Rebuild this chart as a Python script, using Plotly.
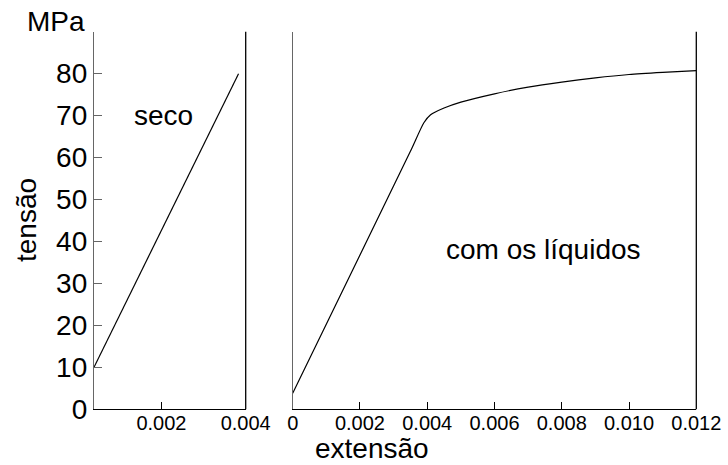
import plotly.graph_objects as go

# Data
seco_x = [0.0004, 0.00383]
seco_y = [10.0, 80.0]

liq_x = [0.0, 0.0035, 0.0039, 0.0041, 0.0045, 0.005, 0.006, 0.007, 0.008, 0.009, 0.010, 0.011, 0.012]
liq_y = [3.8, 61.5, 68.3, 70.2, 71.8, 73.2, 75.2, 76.8, 78.0, 79.0, 79.8, 80.3, 80.7]

y_ticks = [0, 10, 20, 30, 40, 50, 60, 70, 80]
left_x_ticks = [0.002, 0.004]
left_x_labels = ["0.002", "0.004"]
right_x_ticks = [0, 0.002, 0.004, 0.006, 0.008, 0.010, 0.012]
right_x_labels = ["0", "0.002", "0.004", "0.006", "0.008", "0.010", "0.012"]

FONT = "Liberation Sans, Arial, sans-serif"
W, H = 728, 465

fig = go.Figure()
fig.add_trace(go.Scatter(x=seco_x, y=seco_y, mode="lines",
                         line=dict(color="black", width=1.2), xaxis="x", yaxis="y",
                         showlegend=False, hoverinfo="skip"))
fig.add_trace(go.Scatter(x=liq_x, y=liq_y, mode="lines",
                         line=dict(color="black", width=1.2, shape="spline", smoothing=0.6),
                         xaxis="x2", yaxis="y2", showlegend=False, hoverinfo="skip"))

y_dom = [(H - 409.3) / H, (H - 31.7) / H]
x1_dom = [94 / W, 245.7 / W]
x2_dom = [292.7 / W, 696.3 / W]

common_x = dict(showgrid=False, zeroline=False, showline=True, linecolor="black", linewidth=1.3,
                ticks="inside", ticklen=7, tickcolor="black", tickwidth=1, automargin=False,
                ticklabelstandoff=-4,
                tickfont=dict(family=FONT, size=20, color="black"))

fig.update_layout(
    width=W, height=H,
    margin=dict(l=0, r=0, t=0, b=0),
    paper_bgcolor="white", plot_bgcolor="white",
    xaxis=dict(domain=x1_dom, range=[0.0004, 0.004], tickvals=left_x_ticks, ticktext=left_x_labels,
               anchor="y", **common_x),
    yaxis=dict(domain=y_dom, range=[0, 90], tickvals=y_ticks, showgrid=False, zeroline=False,
               showline=True, linecolor="#666666", linewidth=1.3, ticks="inside", ticklen=8,
               tickcolor="#666666", anchor="x", automargin=False,
               tickfont=dict(family=FONT, size=28, color="black")),
    xaxis2=dict(domain=x2_dom, range=[0, 0.012], tickvals=right_x_ticks, ticktext=right_x_labels,
                anchor="y2", **common_x),
    yaxis2=dict(domain=y_dom, range=[0, 90], showgrid=False, zeroline=False, showline=True,
                linecolor="#666666", linewidth=1.3, showticklabels=False, ticks="", anchor="x2",
                automargin=False),
)

# right border lines of each panel
for xr, yr in [("x domain", "y domain"), ("x2 domain", "y2 domain")]:
    fig.add_shape(type="line", xref=xr, yref=yr, x0=1, x1=1, y0=0, y1=1,
                  line=dict(color="black", width=1.3))

ann_font = dict(family=FONT, size=28, color="black")
fig.add_annotation(text="MPa", xref="paper", yref="paper", x=56 / W, y=1 - 21 / H,
                   showarrow=False, font=ann_font, xanchor="center", yanchor="middle")
fig.add_annotation(text="tensão", xref="paper", yref="paper", x=26 / W, y=1 - 220 / H,
                   showarrow=False, font=ann_font, textangle=-90, xanchor="center", yanchor="middle")
fig.add_annotation(text="extensão", xref="paper", yref="paper", x=372 / W, y=1 - 448 / H,
                   showarrow=False, font=ann_font, xanchor="center", yanchor="middle")
fig.add_annotation(text="seco", xref="x", yref="y", x=0.00205, y=70,
                   showarrow=False, font=ann_font, xanchor="center", yanchor="middle")
fig.add_annotation(text="com os líquidos", xref="x2", yref="y2", x=0.00747, y=38,
                   showarrow=False, font=ann_font, xanchor="center", yanchor="middle")

fig.write_html("out.html")
